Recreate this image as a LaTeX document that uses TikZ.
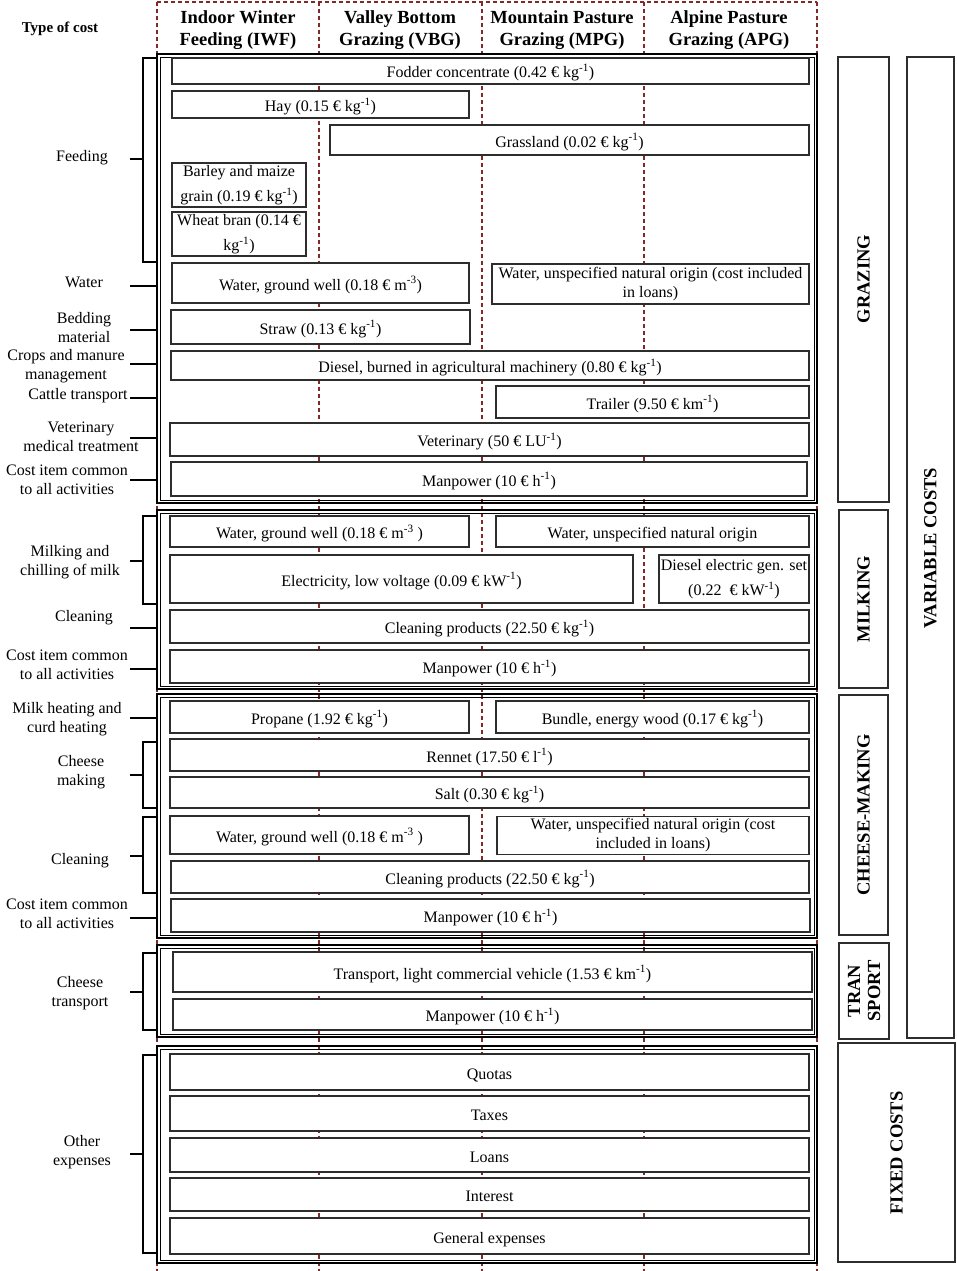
\documentclass[tikz,border=0pt]{standalone}
\usepackage{fontspec}
\setmainfont{Liberation Serif}
\usetikzlibrary{positioning}
\definecolor{gridred}{RGB}{130,40,40}
\definecolor{boxgray}{RGB}{45,45,45}
\newcommand{\itemfont}{\fontsize{16}{19}\selectfont}
\newcommand{\headfont}{\fontsize{18.5}{22}\selectfont\bfseries}
\newcommand{\inv}{\textsuperscript{-1}}

\begin{document}
\begin{tikzpicture}[x=1pt, y=-1pt,
    grid/.style={draw=gridred, line width=1.1pt, dash pattern=on 4pt off 3pt},
    sect/.style={line width=2.6pt},
    secti/.style={line width=0.8pt},
    costbox/.style={draw=boxgray, line width=1.5pt, fill=white, inner sep=1pt, align=center, font=\itemfont},
    costline/.style={costbox, text height=18pt, text depth=4pt},
    sz/.style 2 args={minimum width=#1, minimum height=#2},
    brk/.style={line width=2.8pt},
    lbl/.style={align=center, font=\itemfont},
    head/.style={align=center, font=\headfont},
    side/.style={draw=boxgray, line width=1.4pt},
    sidetxt/.style={rotate=90, align=center, font=\headfont}]
    \useasboundingbox (0,0) rectangle (957,1271);

    % dashed columns
    \foreach \x in {157,319,482,644,817}
        \draw[grid] (\x,2) -- (\x,1271);
    \draw[grid] (157,2) -- (817,2);

    \node[font=\fontsize{15}{18}\selectfont\bfseries] (type) at (60,29) {Type of cost};
    \node[head] (iwf) at (238,30) {Indoor Winter\\Feeding (IWF)};
    \node[head] (vbg) at (400,30) {Valley Bottom\\Grazing (VBG)};
    \node[head] (mpg) at (562,30) {Mountain Pasture\\Grazing (MPG)};
    \node[head] (apg) at (729,30) {Alpine Pasture\\Grazing (APG)};

    % sections
    \draw[sect] (157,54) rectangle (817,503);
    \draw[secti] (160,57) rectangle (814,500);
    \draw[sect] (157,510) rectangle (817,689);
    \draw[secti] (160,513) rectangle (814,686);
    \draw[sect] (157,694) rectangle (817,938);
    \draw[secti] (160,697) rectangle (814,935);
    \draw[sect] (157,945) rectangle (817,1037);
    \draw[secti] (160,948) rectangle (814,1034);
    \draw[sect] (157,1046) rectangle (817,1263);
    \draw[secti] (160,1049) rectangle (814,1260);

    % grazing
    \node[costline, sz={637}{26}] (fodder) at (490.5,71) {Fodder concentrate (0.42 € kg\inv)};
    \node[costline, sz={297}{27}] (hay) at (320.5,104.5) {Hay (0.15 € kg\inv)};
    \node[costline, sz={479}{30}] (grass) at (569.5,140) {Grassland (0.02 € kg\inv)};
    \node[costbox, sz={134}{44}] (barley) at (239,185) {Barley and maize\\[6pt]grain (0.19 € kg\inv)};
    \node[costbox, sz={134}{44}] (wheat) at (239,234) {Wheat bran (0.14 €\\[6pt]kg\inv)};
    \node[costline, sz={297}{40}] (wellA) at (320.5,283) {Water, ground well (0.18 € m\textsuperscript{-3})};
    \node[costbox, sz={317}{40}] (naturalA) at (650.5,284) {Water, unspecified natural origin (cost included\\in loans)};
    \node[costline, sz={299}{34}] (straw) at (320.5,327) {Straw (0.13 € kg\inv)};
    \node[costline, sz={638}{29}] (diesel) at (490,365.5) {Diesel, burned in agricultural machinery (0.80 € kg\inv)};
    \node[costline, sz={313}{32}] (trailer) at (652.5,402) {Trailer (9.50 € km\inv)};
    \node[costline, sz={639}{33}] (vet) at (489.5,439.5) {Veterinary (50 € LU\inv)};
    \node[costline, sz={636}{34}] (manA) at (489,479) {Manpower (10 € h\inv)};

    % milking
    \node[costline, sz={299}{31}] (wellB) at (319.5,531.5) {Water, ground well (0.18 € m\textsuperscript{-3} )};
    \node[costline, sz={313}{31}] (naturalB) at (652.5,531.5) {Water, unspecified natural origin};
    \node[costline, sz={463}{48}] (elec) at (401.5,579) {Electricity, low voltage (0.09 € kW\inv)};
    \node[costbox, sz={150}{48}] (genset) at (734,579) {Diesel electric gen. set\\[6pt](0.22~ € kW\inv)};
    \node[costline, sz={639}{33}] (cleanA) at (489.5,626.5) {Cleaning products (22.50 € kg\inv)};
    \node[costline, sz={639}{33}] (manB) at (489.5,666.5) {Manpower (10 € h\inv)};

    % cheese-making
    \node[costline, sz={299}{32}] (propane) at (319.5,717) {Propane (1.92 € kg\inv)};
    \node[costline, sz={313}{32}] (bundle) at (652.5,717) {Bundle, energy wood (0.17 € kg\inv)};
    \node[costline, sz={639}{32}] (rennet) at (489.5,755) {Rennet (17.50 € l\inv)};
    \node[costline, sz={639}{31}] (salt) at (489.5,792.5) {Salt (0.30 € kg\inv)};
    \node[costline, sz={299}{38}] (wellC) at (319.5,835) {Water, ground well (0.18 € m\textsuperscript{-3} )};
    \node[costbox, sz={312}{38}] (naturalC) at (653,835.5) {Water, unspecified natural origin (cost\\included in loans)};
    \node[costline, sz={638}{32}] (cleanB) at (490,877) {Cleaning products (22.50 € kg\inv)};
    \node[costline, sz={639}{33}] (manC) at (490.5,915.5) {Manpower (10 € h\inv)};

    % transport
    \node[costline, sz={639}{40}] (vehicle) at (492.5,972) {Transport, light commercial vehicle (1.53 € km\inv)};
    \node[costline, sz={639}{31}] (manD) at (492.5,1014.5) {Manpower (10 € h\inv)};

    % fixed costs
    \node[costline, sz={639}{36}] (quotas) at (489.5,1072) {Quotas};
    \node[costline, sz={639}{35}] (taxes) at (489.5,1113.5) {Taxes};
    \node[costline, sz={639}{34}] (loans) at (489.5,1155) {Loans};
    \node[costline, sz={639}{33}] (interest) at (489.5,1194.5) {Interest};
    \node[costline, sz={639}{36}] (general) at (489.5,1236) {General expenses};

    % type of cost labels
    \node[lbl] (feeding) at (82,158) {Feeding};
    \node[lbl] (water) at (84,282) {Water};
    \node[lbl] (bedding) at (84,328) {Bedding\\material};
    \node[lbl] (crops) at (66,366) {Crops and manure\\management};
    \node[lbl] (cattle) at (78,396) {Cattle transport};
    \node[lbl] (medical) at (81,437) {Veterinary\\medical treatment};
    \node[lbl] (commonA) at (67,480) {Cost item common\\to all activities};
    \node[lbl] (milking) at (70,562) {Milking and\\chilling of milk};
    \node[lbl] (cleaningA) at (84,618) {Cleaning};
    \node[lbl] (commonB) at (67,665) {Cost item common\\to all activities};
    \node[lbl] (heating) at (67,719) {Milk heating and\\curd heating};
    \node[lbl] (making) at (81,772) {Cheese\\making};
    \node[lbl] (cleaningB) at (80,861) {Cleaning};
    \node[lbl] (commonC) at (67,914) {Cost item common\\to all activities};
    \node[lbl] (cheesetr) at (80,993) {Cheese\\transport};
    \node[lbl] (other) at (82,1152) {Other\\expenses};

    % brackets
    \draw[brk] (157,58) -- (143,58) -- (143,262) -- (157,262);
    \draw[brk] (130,159) -- (143,159);
    \foreach \y in {286,330,364,398,438,480,628,669,718,918}
        \draw[brk] (130,\y) -- (157,\y);
    \draw[brk] (157,516) -- (143,516) -- (143,604) -- (157,604);
    \draw[brk] (130,561) -- (143,561);
    \draw[brk] (157,742) -- (143,742) -- (143,808) -- (157,808);
    \draw[brk] (130,775) -- (143,775);
    \draw[brk] (157,817) -- (143,817) -- (143,893) -- (157,893);
    \draw[brk] (130,856) -- (143,856);
    \draw[brk] (157,953) -- (143,953) -- (143,1030) -- (157,1030);
    \draw[brk] (130,992) -- (143,992);
    \draw[brk] (157,1055) -- (143,1055) -- (143,1253) -- (157,1253);
    \draw[brk] (130,1154) -- (143,1154);

    % activity groups
    \draw[side] (838,57) rectangle (889,502);
    \node[sidetxt] (grazing) at (863.5,279) {GRAZING};
    \draw[side] (839,510) rectangle (888,688);
    \node[sidetxt] (milkingside) at (863.5,599) {MILKING};
    \draw[side] (839,695) rectangle (888,935);
    \node[sidetxt] (cheeseside) at (863.5,815) {CHEESE-MAKING};
    \draw[side] (839,943) rectangle (889,1039);
    \node[sidetxt, font=\fontsize{18.5}{20}\selectfont\bfseries] (transside) at (864,991) {TRAN\\SPORT};
    \draw[side] (907,57) rectangle (954,1038);
    \node[sidetxt] (variable) at (930.5,548) {VARIABLE COSTS};
    \draw[side] (838,1043) rectangle (955,1262);
    \node[sidetxt] (fixed) at (896.5,1153) {FIXED COSTS};
\end{tikzpicture}
\end{document}
